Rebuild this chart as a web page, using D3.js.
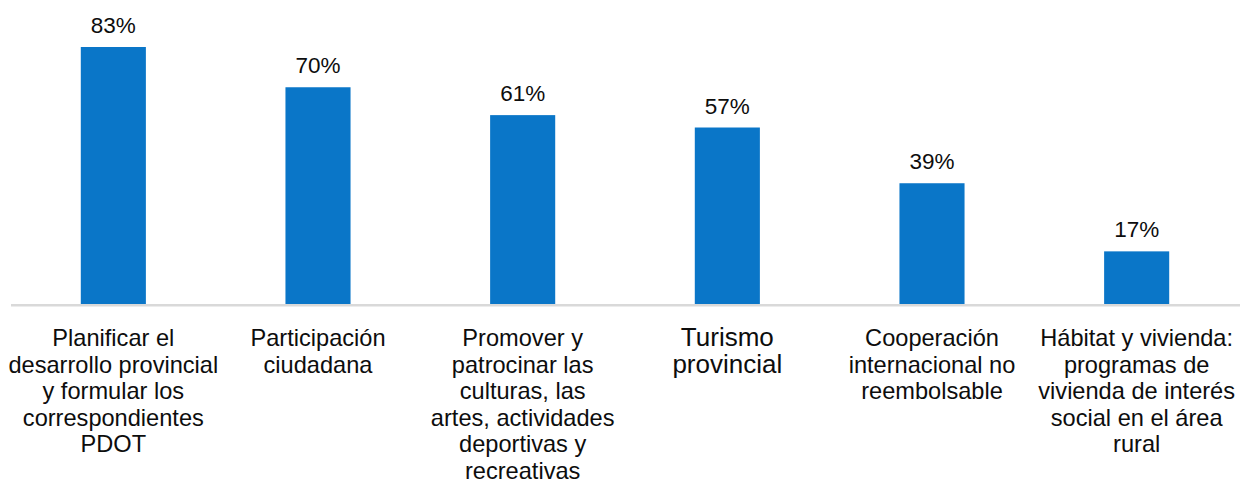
<!DOCTYPE html>
<html>
<head>
<meta charset="utf-8">
<script src="https://cdn.jsdelivr.net/npm/d3@7"></script>
<style>
  html, body { margin: 0; padding: 0; background: #ffffff; }
  svg { display: block; font-family: Helvetica, "Liberation Sans", Arial, sans-serif; }
</style>
</head>
<body>
<svg id="chart" width="1240" height="480"></svg>
<script>
// Competencias y porcentaje de cumplimiento
const categories = [
  "Planificar el desarrollo provincial y formular los correspondientes PDOT",
  "Participación ciudadana",
  "Promover y patrocinar las culturas, las artes, actividades deportivas y recreativas",
  "Turismo provincial",
  "Cooperación internacional no reembolsable",
  "Hábitat y vivienda: programas de vivienda de interés social en el área rural"
];
const values = [83, 70, 61, 57, 39, 17];
// Line breaks of each category label
const labelLines = [
  ["Planificar el", "desarrollo provincial", "y formular los", "correspondientes", "PDOT"],
  ["Participación", "ciudadana"],
  ["Promover y", "patrocinar las", "culturas, las", "artes, actividades", "deportivas y", "recreativas"],
  ["Turismo", "provincial"],
  ["Cooperación", "internacional no", "reembolsable"],
  ["Hábitat y vivienda:", "programas de", "vivienda de interés", "social en el área", "rural"]
];
const valueLabels = values.map(v => v + "%");

const svg = d3.select("#chart");
const baseline = 304;

const x = d3.scaleBand()
  .domain(categories)
  .range([11, 1239])
  .paddingInner(0.682)
  .paddingOuter(0.341);

const y = d3.scaleLinear()
  .domain([0, 83])
  .range([baseline, 47]);

// Bars
svg.append("g")
  .selectAll("rect")
  .data(values)
  .join("rect")
  .attr("x", (d, i) => x(categories[i]))
  .attr("y", d => y(d))
  .attr("width", x.bandwidth())
  .attr("height", d => baseline - y(d))
  .attr("fill", "#0a76c8");

// Category axis line
const axis = d3.axisBottom(x).tickSize(0).tickFormat("");
const gAxis = svg.append("g")
  .attr("transform", `translate(0,${baseline + 1.25})`)
  .call(axis);
gAxis.select(".domain")
  .attr("d", "M11,0H1240")
  .attr("stroke", "#d9d9d9")
  .attr("stroke-width", 2.5);

// Value labels
svg.append("g")
  .selectAll("text")
  .data(values)
  .join("text")
  .attr("x", (d, i) => x(categories[i]) + x.bandwidth() / 2)
  .attr("y", d => y(d) - 14)
  .attr("text-anchor", "middle")
  .attr("font-size", 22.5)
  .attr("fill", "#0d0d0d")
  .text((d, i) => valueLabels[i]);

// Category labels
const lineStep = 26.6;
const catG = svg.append("g")
  .selectAll("text")
  .data(categories)
  .join("text")
  .attr("x", d => x(d) + x.bandwidth() / 2)
  .attr("y", 346)
  .attr("text-anchor", "middle")
  .attr("font-size", (d, i) => i === 3 ? 26 : 23.6)
  .attr("fill", "#0d0d0d");

catG.each(function(d, i) {
  const t = d3.select(this);
  labelLines[i].forEach((line, j) => {
    t.append("tspan")
      .attr("x", x(d) + x.bandwidth() / 2)
      .attr("y", 346 + j * lineStep)
      .text(line);
  });
});
</script>
</body>
</html>
